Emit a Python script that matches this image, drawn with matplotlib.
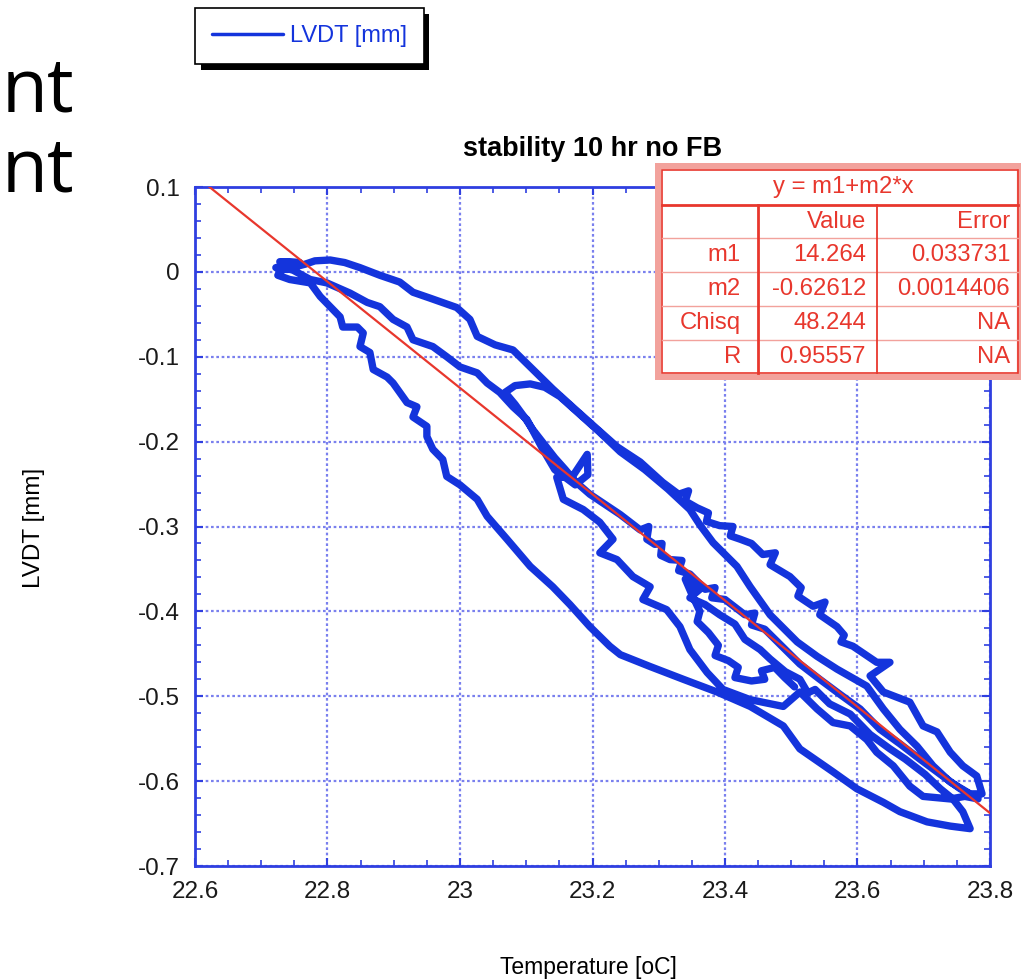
import numpy as np
import matplotlib
matplotlib.use("Agg")
import matplotlib.pyplot as plt
from matplotlib.ticker import MultipleLocator, FuncFormatter
from matplotlib import patheffects as pe
from matplotlib.patches import Rectangle

# ---------------------------------------------------------------- text
title = "stability 10 hr no FB"
x_label = "Temperature [oC]"
y_label = "LVDT [mm]"
series_name = "LVDT [mm]"
fit_equation = "y = m1+m2*x"
fit_header = ["Value", "Error"]
fit_rows = ["m1", "m2", "Chisq", "R"]
fit_values = [14.264, -0.62612, 48.244, 0.95557]
fit_value_text = ["14.264", "-0.62612", "48.244", "0.95557"]
fit_error_text = ["0.033731", "0.0014406", "NA", "NA"]

# ---------------------------------------------------------------- data
# 10 h run, temperature [oC] vs LVDT reading [mm], split into passes
temp_1 = [22.728, 22.743, 22.758, 22.736, 22.722, 22.731, 22.746, 22.766,
          22.781, 22.804, 22.826, 22.849, 22.879, 22.909, 22.929, 22.955, 22.995,
          23.015, 23.026, 23.053, 23.080, 23.106, 23.140, 23.171, 23.201, 23.237,
          23.272, 23.306, 23.330, 23.345, 23.340, 23.358, 23.375, 23.372, 23.392,
          23.412, 23.408, 23.423, 23.440, 23.457, 23.476, 23.468, 23.498, 23.515,
          23.510, 23.533, 23.551, 23.543, 23.569, 23.580, 23.575, 23.593, 23.629,
          23.649, 23.619, 23.639, 23.679, 23.699, 23.720, 23.740, 23.759, 23.780,
          23.788]
lvdt_1 = [0.012, 0.012, 0.011, 0.007, 0.005, 0.002, 0.005, 0.009,
          0.013, 0.014, 0.011, 0.005, -0.004, -0.012, -0.024, -0.031, -0.042,
          -0.056, -0.076, -0.086, -0.092, -0.112, -0.138, -0.160, -0.181, -0.206,
          -0.224, -0.248, -0.262, -0.258, -0.270, -0.278, -0.284, -0.294, -0.299,
          -0.300, -0.311, -0.315, -0.320, -0.333, -0.331, -0.345, -0.359, -0.372,
          -0.382, -0.394, -0.389, -0.404, -0.418, -0.428, -0.436, -0.441, -0.460,
          -0.460, -0.476, -0.495, -0.507, -0.535, -0.542, -0.566, -0.582, -0.594,
          -0.615]

temp_2 = [23.770, 23.740, 23.714, 23.690, 23.664, 23.639, 23.614, 23.569, 23.539,
          23.509, 23.468, 23.438, 23.418, 23.382, 23.362, 23.347, 23.314, 23.279,
          23.242, 23.211, 23.181, 23.151, 23.128, 23.106, 23.083, 23.068]
lvdt_2 = [-0.615, -0.601, -0.582, -0.559, -0.539, -0.515, -0.488, -0.468, -0.453,
          -0.436, -0.404, -0.371, -0.347, -0.319, -0.298, -0.280, -0.256, -0.233,
          -0.212, -0.189, -0.168, -0.147, -0.136, -0.132, -0.134, -0.142]

temp_3 = [23.083, 23.098, 23.110, 23.128, 23.143, 23.159, 23.174, 23.196, 23.219,
          23.242, 23.272, 23.285, 23.282, 23.294, 23.305, 23.303, 23.317, 23.335,
          23.330, 23.347, 23.370, 23.385, 23.380, 23.400, 23.430, 23.445, 23.440,
          23.460, 23.491, 23.513, 23.543, 23.574, 23.604, 23.634, 23.664, 23.694,
          23.725, 23.755, 23.782]
lvdt_3 = [-0.156, -0.172, -0.186, -0.204, -0.219, -0.233, -0.247, -0.262, -0.274,
          -0.286, -0.304, -0.300, -0.315, -0.321, -0.320, -0.334, -0.339, -0.340,
          -0.352, -0.356, -0.374, -0.372, -0.384, -0.386, -0.404, -0.402, -0.416,
          -0.421, -0.445, -0.462, -0.480, -0.498, -0.515, -0.539, -0.556, -0.574,
          -0.592, -0.609, -0.621]

temp_4 = [23.762, 23.740, 23.699, 23.679, 23.654, 23.629, 23.614, 23.589, 23.563,
          23.539, 23.513, 23.488, 23.438, 23.397, 23.373, 23.347, 23.332, 23.312,
          23.276, 23.287, 23.261, 23.237, 23.211, 23.231, 23.211, 23.186, 23.156,
          23.146, 23.169, 23.192, 23.193, 23.174, 23.143, 23.125, 23.101, 23.080,
          23.060, 23.041, 23.026, 23.000, 22.980, 22.959, 22.929, 22.920, 22.899,
          22.879, 22.860, 22.834, 22.799, 22.774, 22.748, 22.733]
lvdt_4 = [-0.618, -0.621, -0.618, -0.606, -0.582, -0.566, -0.551, -0.535, -0.531,
          -0.515, -0.495, -0.512, -0.504, -0.492, -0.472, -0.445, -0.418, -0.398,
          -0.386, -0.371, -0.359, -0.339, -0.331, -0.315, -0.295, -0.280, -0.268,
          -0.242, -0.242, -0.215, -0.239, -0.251, -0.233, -0.209, -0.174, -0.159,
          -0.142, -0.131, -0.119, -0.112, -0.100, -0.088, -0.080, -0.065, -0.056,
          -0.041, -0.036, -0.025, -0.013, -0.009, 0.002, 0.005]

temp_5 = [22.725, 22.743, 22.774, 22.789, 22.804, 22.819, 22.823, 22.845, 22.854,
          22.849, 22.864, 22.869, 22.890, 22.899, 22.909, 22.920, 22.935, 22.929,
          22.950, 22.950, 22.959, 22.974, 22.980, 23.000, 23.026, 23.041, 23.071,
          23.106, 23.140, 23.166, 23.196, 23.226, 23.242, 23.287, 23.337, 23.388,
          23.438, 23.488, 23.513, 23.563, 23.599, 23.639, 23.664, 23.705, 23.740,
          23.770, 23.759, 23.744, 23.725]
lvdt_5 = [-0.004, -0.009, -0.013, -0.029, -0.041, -0.053, -0.065, -0.065, -0.072,
          -0.088, -0.095, -0.115, -0.124, -0.131, -0.142, -0.154, -0.159, -0.171,
          -0.182, -0.194, -0.209, -0.221, -0.241, -0.251, -0.268, -0.288, -0.315,
          -0.347, -0.371, -0.392, -0.418, -0.441, -0.451, -0.465, -0.480, -0.495,
          -0.512, -0.535, -0.562, -0.589, -0.609, -0.625, -0.636, -0.648, -0.653,
          -0.656, -0.636, -0.621, -0.609]

temp_6 = [23.702, 23.672, 23.649, 23.619, 23.589, 23.558, 23.536, 23.525, 23.513,
          23.491, 23.468, 23.453, 23.430, 23.415, 23.392, 23.370, 23.347, 23.362,
          23.340]
lvdt_6 = [-0.592, -0.574, -0.562, -0.545, -0.521, -0.509, -0.492, -0.496, -0.480,
          -0.471, -0.456, -0.445, -0.433, -0.415, -0.404, -0.392, -0.384, -0.374,
          -0.362]

temp_7 = [23.350, 23.362, 23.358, 23.375, 23.390, 23.385, 23.405, 23.420, 23.415,
          23.440, 23.460, 23.455, 23.475, 23.490, 23.505]
lvdt_7 = [-0.380, -0.400, -0.412, -0.425, -0.440, -0.452, -0.458, -0.466, -0.478,
          -0.482, -0.480, -0.470, -0.466, -0.478, -0.489]

temperature = np.concatenate([temp_1, temp_2, temp_3, temp_4, temp_5, temp_6, temp_7])
lvdt = np.concatenate([lvdt_1, lvdt_2, lvdt_3, lvdt_4, lvdt_5, lvdt_6, lvdt_7])

x_range = (22.6, 23.8)
y_range = (-0.7, 0.1)

# ---------------------------------------------------------------- style
BLUE = "#1434dc"
AXBLUE = "#2f3fe0"
GRID = "#7a80ee"
RED = "#e8372d"
PINK = "#f2a29c"
FONT = "Liberation Sans"
plt.rcParams["font.family"] = [FONT, "DejaVu Sans"]

W, H = 1021, 980
fig = plt.figure(figsize=(W / 100, H / 100), dpi=100)
fig.patch.set_facecolor("white")


def fx(px):
    return px / W


def fy(py):
    return 1 - py / H


ax = fig.add_axes([fx(195), fy(866), fx(990) - fx(195), fy(187) - fy(866)])

line, = ax.plot(temperature, lvdt, color=BLUE, lw=5.3, solid_joinstyle="round",
                solid_capstyle="round", label=series_name, zorder=3)

m1, m2 = fit_values[0], fit_values[1]
fit_x = np.array(x_range)
ax.plot(fit_x, m1 + m2 * fit_x, color=RED, lw=1.6, zorder=4)

ax.set_xlim(*x_range)
ax.set_ylim(*y_range)
ax.xaxis.set_major_locator(MultipleLocator(0.2))
ax.xaxis.set_minor_locator(MultipleLocator(0.05))
ax.yaxis.set_major_locator(MultipleLocator(0.1))
ax.yaxis.set_minor_locator(MultipleLocator(0.02))
fmt = FuncFormatter(lambda v, p: f"{round(v, 6):g}")
ax.xaxis.set_major_formatter(fmt)
ax.yaxis.set_major_formatter(fmt)
ax.tick_params(which="both", direction="in", top=True, right=True, color=AXBLUE)
ax.tick_params(which="major", length=6, width=1.5, labelsize=17.5, pad=11,
               labelcolor="#1a1a1a")
ax.tick_params(which="minor", length=4, width=1.2)
for s in ax.spines.values():
    s.set_color(AXBLUE)
    s.set_linewidth(2.0)
ax.grid(True, which="major", color=GRID, linestyle=(0, (1.2, 1.2)), lw=1.6)
ax.set_axisbelow(True)

ax.set_title(title, fontsize=19.5, fontweight="bold", pad=22)
fig.text(fx(588), fy(967), x_label, ha="center", va="center", fontsize=16.5)
fig.text(fx(34), fy(528), y_label, ha="center", va="center", rotation=90,
         fontsize=17.5)

# legend box with a hard drop shadow
leg = fig.legend(handles=[line], labels=[series_name], loc="upper left",
                 bbox_to_anchor=(fx(195), fy(8)), borderaxespad=0,
                 fontsize=17, frameon=True, fancybox=False, edgecolor="black",
                 framealpha=1, handlelength=3.0, handletextpad=0.3,
                 borderpad=0.72, labelcolor="linecolor")
leg.get_frame().set_linewidth(1.2)
leg.legendPatch.set_path_effects([
    pe.SimplePatchShadow(offset=(4, -4), shadow_rgbFace="black", alpha=1.0),
    pe.Normal()])
for h in leg.legend_handles:
    h.set_linewidth(2.5)

# fit-results table
tab = fig.add_axes([fx(655), fy(380), fx(1021) - fx(655), fy(163) - fy(380)])
tab.set_xlim(655, 1021)
tab.set_ylim(380, 163)
tab.axis("off")
tab.add_patch(Rectangle((658, 166), 362, 211, facecolor="white",
                        edgecolor=PINK, lw=4.5, zorder=1))
tab.add_patch(Rectangle((662, 170), 356, 203, facecolor="none",
                        edgecolor=RED, lw=1.2, zorder=2))
tab.plot([662, 1018], [205, 205], color=RED, lw=2.0, zorder=2)
for yy in [238, 272, 306, 340]:
    tab.plot([662, 1018], [yy, yy], color=PINK, lw=1.0, zorder=2)
tab.plot([758, 758], [205, 373], color=RED, lw=2.0, zorder=2)
tab.plot([877, 877], [205, 373], color=RED, lw=1.3, zorder=2)
tkw = dict(color=RED, fontsize=17.2, va="center", zorder=3)
tab.text(843, 187, fit_equation, ha="center", **tkw)
tab.text(866, 222, fit_header[0], ha="right", **tkw)
tab.text(1010, 222, fit_header[1], ha="right", **tkw)
for i, (rname, val, err) in enumerate(zip(fit_rows, fit_value_text, fit_error_text)):
    yc = 255 + i * 34
    tab.text(741, yc, rname, ha="right", **tkw)
    tab.text(866, yc, val, ha="right", **tkw)
    tab.text(1010, yc, err, ha="right", **tkw)

# slide text at the left edge
slide_font = ["Open Sans", "DejaVu Sans"]
fig.text(fx(2), fy(112), "nt", ha="left", va="baseline", fontsize=54,
         family=slide_font, color="black")
fig.text(fx(2), fy(192), "nt", ha="left", va="baseline", fontsize=54,
         family=slide_font, color="black")

fig.savefig("out.png", dpi=100, facecolor="white")
